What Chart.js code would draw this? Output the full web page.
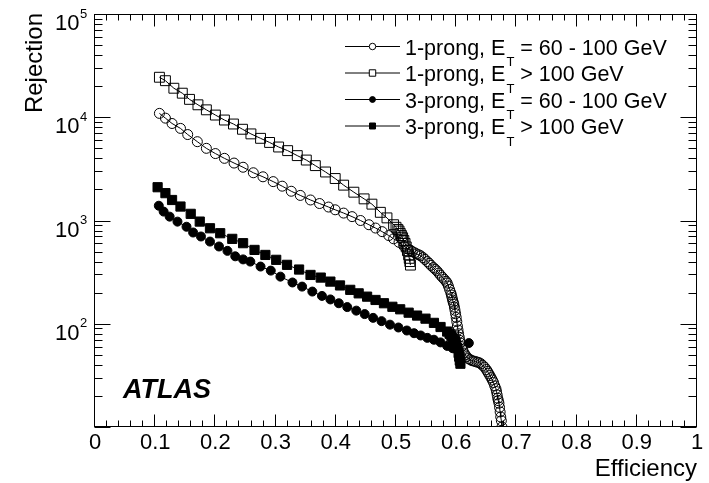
<!DOCTYPE html>
<html>
<head>
<meta charset="utf-8">
<script src="https://cdn.jsdelivr.net/npm/chart.js@4.4.0/dist/chart.umd.min.js"></script>
<style>
  html, body { margin: 0; padding: 0; background: #fff; }
  #wrap { width: 709px; height: 483px; }
</style>
</head>
<body>
<div id="wrap"><canvas id="c" width="709" height="483"></canvas></div>
<script>
// 1-prong, ET = 60 - 100 GeV (open circles)
const eff1pLow = [0.107, 0.117, 0.128, 0.142, 0.154, 0.170, 0.185, 0.200, 0.215, 0.231, 0.246, 0.263, 0.279, 0.296,
                  0.311, 0.326, 0.341, 0.358, 0.373, 0.388, 0.399, 0.413, 0.427, 0.441, 0.455, 0.466, 0.477, 0.488,
                  0.496, 0.505, 0.513, 0.520, 0.524, 0.527, 0.531, 0.534, 0.538, 0.541, 0.545, 0.548, 0.552, 0.555,
                  0.558, 0.562, 0.565, 0.568, 0.571, 0.574, 0.577, 0.580, 0.583, 0.585, 0.587, 0.589, 0.591, 0.592,
                  0.593, 0.594, 0.595, 0.596, 0.597, 0.598, 0.599, 0.600, 0.601, 0.602, 0.603, 0.604, 0.605, 0.606,
                  0.607, 0.609, 0.611, 0.613, 0.615, 0.617, 0.620, 0.623, 0.626, 0.629, 0.632, 0.635, 0.638, 0.641,
                  0.644, 0.647, 0.650, 0.652, 0.654, 0.656, 0.658, 0.660, 0.662, 0.664, 0.666, 0.667, 0.668, 0.669,
                  0.670, 0.671, 0.672, 0.673, 0.674, 0.675, 0.676];
const rej1pLow = [10900, 9800, 8700, 7800, 6800, 5800, 5000, 4450, 4000, 3600, 3280, 2900, 2650, 2380,
                  2150, 1920, 1750, 1580, 1460, 1350, 1270, 1180, 1090, 1000, 910, 845, 780, 715,
                  665, 615, 565, 530, 515, 500, 487, 475, 465, 455, 437, 420, 400, 385,
                  368, 350, 338, 325, 310, 295, 282, 270, 258, 248, 232, 215, 200, 190,
                  180, 170, 162, 155, 145, 135, 125, 115, 105, 95, 87, 80, 74, 69,
                  65, 60, 56, 52, 50, 48, 46, 45, 44, 43.5, 43, 42.5, 42, 41,
                  39.5, 38, 36, 34.5, 33, 31.5, 30, 28.5, 27, 25, 23.5, 22, 20.5, 19,
                  18, 17, 15.5, 14, 12.5, 11.5, 10];

// 1-prong, ET > 100 GeV (open squares)
const eff1pHigh = [0.107, 0.117, 0.131, 0.145, 0.157, 0.171, 0.185, 0.200, 0.215, 0.230, 0.245, 0.259, 0.275, 0.290,
                   0.305, 0.320, 0.336, 0.351, 0.366, 0.383, 0.399, 0.413, 0.430, 0.447, 0.460, 0.474, 0.485, 0.496,
                   0.500, 0.503, 0.505, 0.507, 0.509, 0.511, 0.513, 0.515, 0.517, 0.519, 0.521, 0.522, 0.523, 0.524];
const rej1pHigh = [24400, 22600, 19100, 17100, 14900, 13200, 11800, 10500, 9400, 8600, 7650, 6900, 6250, 5700,
                   5150, 4750, 4250, 3850, 3400, 2950, 2550, 2200, 1880, 1620, 1440, 1200, 1060, 910,
                   860, 820, 790, 750, 715, 680, 640, 600, 555, 510, 465, 430, 400, 370];

// 3-prong, ET = 60 - 100 GeV (filled circles)
const eff3pLow = [0.106, 0.114, 0.124, 0.137, 0.152, 0.163, 0.176, 0.191, 0.206, 0.220, 0.233, 0.246, 0.258, 0.275,
                  0.292, 0.308, 0.328, 0.344, 0.361, 0.377, 0.391, 0.405, 0.419, 0.434, 0.448, 0.462, 0.476, 0.490,
                  0.504, 0.518, 0.530, 0.541, 0.552, 0.563, 0.574, 0.585, 0.594, 0.602, 0.621];
const rej3pLow = [1390, 1220, 1090, 975, 870, 765, 700, 625, 560, 508, 450, 420, 400, 358,
                  327, 286, 251, 229, 205, 186, 172, 158, 145, 134, 124, 114, 106, 98,
                  92, 86, 81, 77, 73, 70, 66, 61, 58, 56, 65];

// 3-prong, ET > 100 GeV (filled squares)
const eff3pHigh = [0.104, 0.117, 0.128, 0.142, 0.159, 0.174, 0.191, 0.208, 0.228, 0.246, 0.265, 0.283, 0.301, 0.319,
                   0.339, 0.358, 0.375, 0.391, 0.407, 0.424, 0.438, 0.452, 0.466, 0.480, 0.494, 0.507, 0.521, 0.535,
                   0.549, 0.563, 0.574, 0.585, 0.589, 0.592, 0.595, 0.598, 0.600, 0.602, 0.604, 0.605, 0.606, 0.607];
const rej3pHigh = [2100, 1840, 1580, 1365, 1160, 976, 841, 753, 664, 603, 519, 464, 416, 372,
                   335, 297, 280, 256, 235, 213, 197, 183, 170, 158, 146, 138, 128, 120,
                   112, 102, 93, 84, 80, 76, 72, 68, 63, 58, 52, 48, 44, 41];

// legend text: prefix, subscript, suffix
const legendPrefix = ['1-prong, E', '1-prong, E', '3-prong, E', '3-prong, E'];
const legendSub = ['T', 'T', 'T', 'T'];
const legendSuffix = [' = 60 - 100 GeV', ' > 100 GeV', ' = 60 - 100 GeV', ' > 100 GeV'];

// y axis labelled decades (10^n)
const yExponents = [2, 3, 4, 5];

const FONT = "'Liberation Sans', Arial, Helvetica, sans-serif";
Chart.defaults.font.family = FONT;

function toPoints(xs, ys) {
    return xs.map((x, i) => ({ x: x, y: ys[i] }));
}

function series(label, xs, ys, style, radius, filled) {
    return {
        label: label,
        data: toPoints(xs, ys),
        borderColor: '#000',
        borderWidth: 1,
        tension: 0,
        fill: false,
        pointStyle: style,
        pointRadius: radius,
        pointHoverRadius: radius,
        pointBorderWidth: 1,
        pointBorderColor: '#000',
        pointBackgroundColor: filled ? '#000' : 'rgba(0,0,0,0)'
    };
}

const datasets = [
    series('1p low', eff1pLow, rej1pLow, 'circle', 5, false),
    series('1p high', eff1pHigh, rej1pHigh, 'rect', 7, false),
    series('3p low', eff3pLow, rej3pLow, 'circle', 4.5, true),
    series('3p high', eff3pHigh, rej3pHigh, 'rect', 6.5, true)
];

// frame, inward ticks, y labels with exponents, titles, legend (ROOT style)
const rootStyle = {
    id: 'rootStyle',
    afterDraw(chart) {
        const ctx = chart.ctx;
        const a = chart.chartArea;
        const xs = chart.scales.x;
        const ys = chart.scales.y;
        const L = Math.round(a.left) - 0.5, R = Math.round(a.right) - 0.5;
        const T = Math.round(a.top) + 0.5, B = Math.round(a.bottom) - 0.5;

        ctx.save();
        ctx.strokeStyle = '#000';
        ctx.lineWidth = 1;
        ctx.strokeRect(L, T, R - L, B - T);

        // x ticks, bottom and top
        ctx.beginPath();
        for (let i = 0; i <= 50; i++) {
            const px = Math.round(xs.getPixelForValue(i * 0.02)) - 0.5;
            const len = i % 5 === 0 ? 12 : 6;
            ctx.moveTo(px, B); ctx.lineTo(px, B - len);
            ctx.moveTo(px, T); ctx.lineTo(px, T + len);
        }
        // y ticks, left and right
        for (let e = 1; e <= 5; e++) {
            for (let m = 1; m <= 9; m++) {
                const v = m * Math.pow(10, e);
                if (v > 1e5) break;
                const py = Math.round(ys.getPixelForValue(v)) + 0.5;
                const len = m === 1 ? 16 : 8;
                ctx.moveTo(L, py); ctx.lineTo(L + len, py);
                ctx.moveTo(R, py); ctx.lineTo(R - len, py);
            }
        }
        ctx.stroke();

        // y tick labels 10^n
        ctx.fillStyle = '#000';
        yExponents.forEach(n => {
            const py = ys.getPixelForValue(Math.pow(10, n));
            ctx.font = '22px ' + FONT;
            ctx.textAlign = 'right';
            ctx.textBaseline = 'alphabetic';
            ctx.fillText('10', 79.5, py + 16);
            ctx.font = '13px ' + FONT;
            ctx.textAlign = 'left';
            ctx.fillText(String(n), 80, py + 3.5);
        });

        // axis titles
        ctx.font = '24px ' + FONT;
        ctx.textAlign = 'right';
        ctx.textBaseline = 'alphabetic';
        ctx.fillText('Efficiency', 697, 476);
        ctx.save();
        ctx.translate(42, 13);
        ctx.rotate(-Math.PI / 2);
        ctx.fillText('Rejection', 0, 0);
        ctx.restore();

        // ATLAS label
        ctx.font = 'italic bold 27px ' + FONT;
        ctx.textAlign = 'left';
        ctx.fillText('ATLAS', 123, 398);

        // legend
        const rowY = [46, 72.5, 99, 125.5];
        chart.data.datasets.forEach((ds, i) => {
            const y = rowY[i];
            ctx.strokeStyle = '#000';
            ctx.beginPath();
            ctx.moveTo(345, y + 0.5); ctx.lineTo(400, y + 0.5);
            ctx.stroke();
            ctx.fillStyle = ds.pointBackgroundColor === '#000' ? '#000' : '#fff';
            Chart.helpers.drawPoint(ctx, {
                pointStyle: ds.pointStyle,
                radius: ds.pointRadius * 0.65,
                borderWidth: 1
            }, 372.5, y + 0.5);
            ctx.fillStyle = '#000';
            ctx.font = '21.5px ' + FONT;
            ctx.textAlign = 'left';
            ctx.textBaseline = 'alphabetic';
            let tx = 405;
            ctx.fillText(legendPrefix[i], tx, y + 8.5);
            tx += ctx.measureText(legendPrefix[i]).width + 1;
            ctx.font = '13px ' + FONT;
            ctx.fillText(legendSub[i], tx, y + 20);
            tx += ctx.measureText(legendSub[i]).width;
            ctx.font = '21.5px ' + FONT;
            ctx.fillText(legendSuffix[i], tx, y + 8.5);
        });
        ctx.restore();
    }
};

new Chart(document.getElementById('c'), {
    type: 'line',
    data: { datasets: datasets },
    plugins: [rootStyle],
    options: {
        responsive: false,
        animation: false,
        events: [],
        layout: { padding: { top: 14, right: 12, left: 0, bottom: 0 } },
        plugins: {
            legend: { display: false },
            tooltip: { enabled: false }
        },
        scales: {
            x: {
                type: 'linear',
                min: 0,
                max: 1,
                grid: { display: false, drawTicks: false },
                border: { display: false },
                ticks: {
                    stepSize: 0.1,
                    autoSkip: false,
                    maxRotation: 0,
                    padding: 3,
                    color: '#000',
                    font: { size: 22 },
                    callback: v => String(Math.round(v * 10) / 10)
                },
                afterFit: s => { s.height = 56; }
            },
            y: {
                type: 'logarithmic',
                min: 10,
                max: 100000,
                grid: { display: false, drawTicks: false },
                border: { display: false },
                ticks: { display: false },
                afterFit: s => { s.width = 95; }
            }
        }
    }
});
</script>
</body>
</html>
